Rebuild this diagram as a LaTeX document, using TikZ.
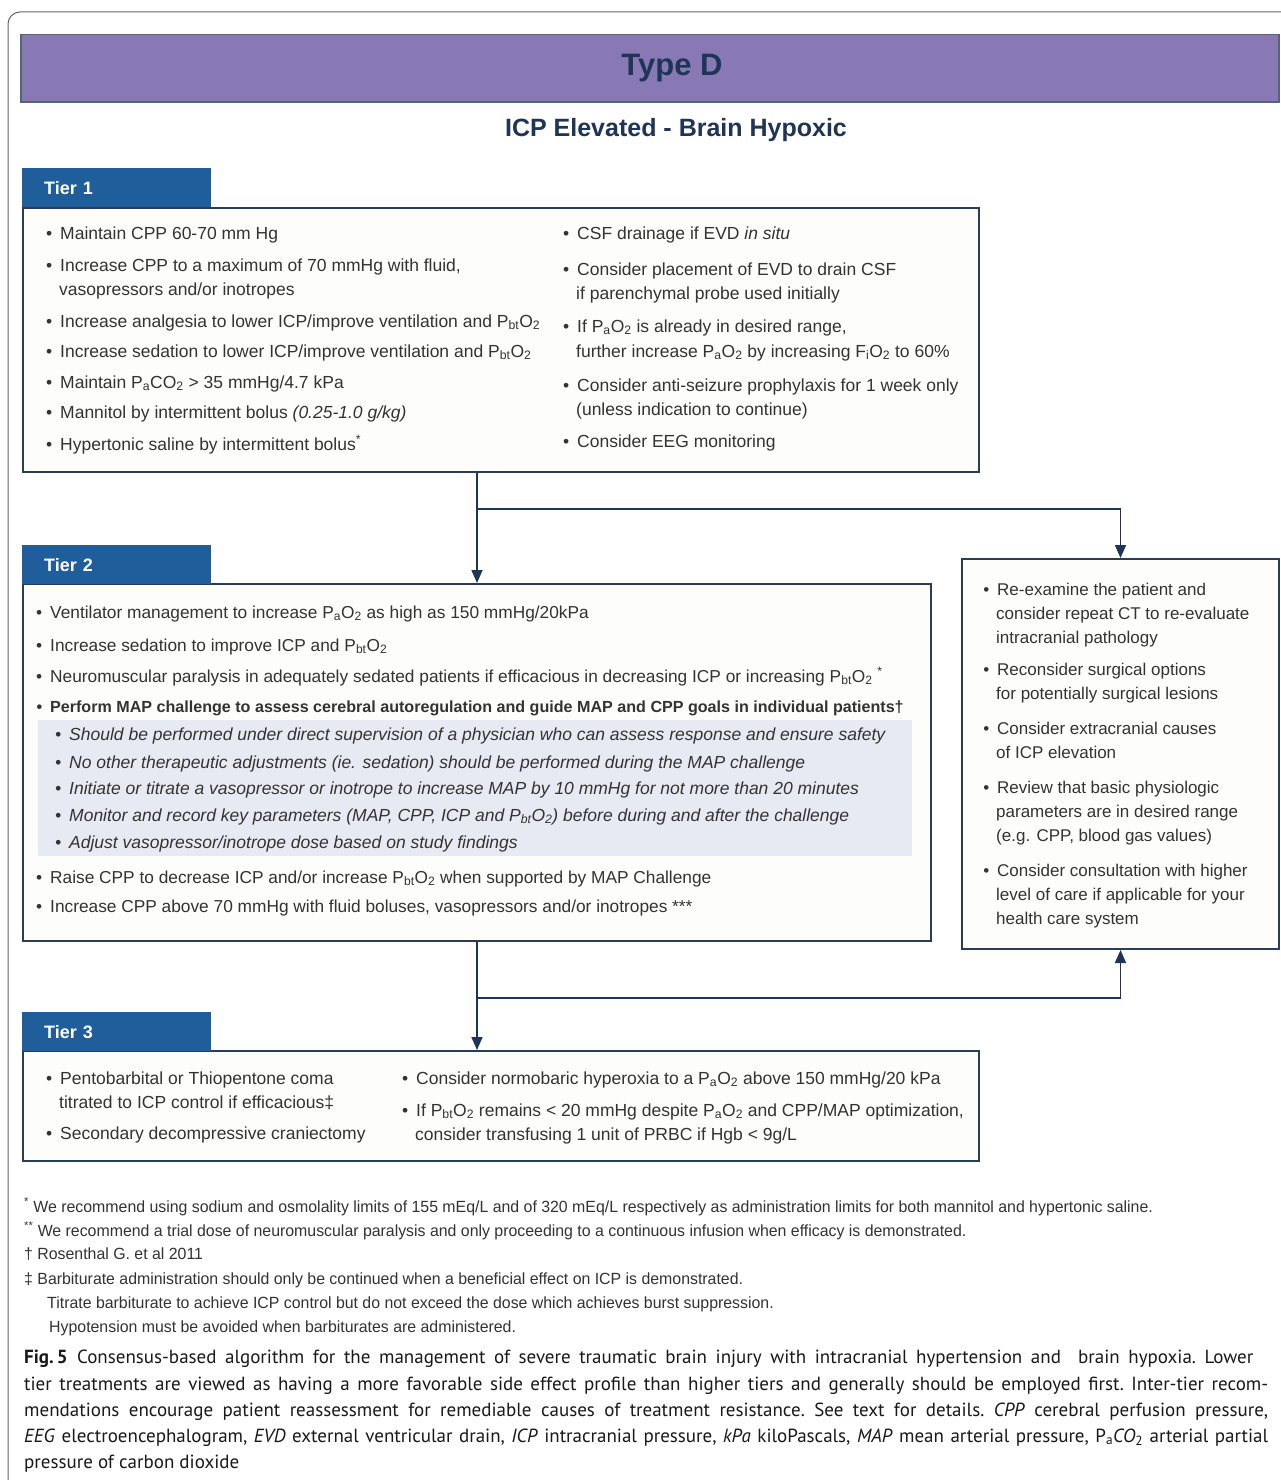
\documentclass[tikz,border=0pt]{standalone}
\usepackage{fontspec}
\setmainfont{Liberation Sans}
\newfontfamily\capfont{PT Sans}
\newfontfamily\narrowfont[FakeStretch=0.98]{Liberation Sans}
\usetikzlibrary{positioning, arrows.meta}

\definecolor{barpurple}{HTML}{8878B4}
\definecolor{navy}{HTML}{1E3557}
\definecolor{tabblue}{HTML}{1F5E9B}
\definecolor{frame}{HTML}{2B3D55}
\definecolor{ink}{HTML}{333333}
\definecolor{shade}{HTML}{E7EAF2}
\definecolor{boxfill}{HTML}{FDFDFB}

\newcommand\bl{\llap{\textbullet\hspace{8pt}}}
\newcommand\lo[1]{\textsubscript{#1}}

\begin{document}
\begin{tikzpicture}[x=1pt, y=-1pt,
	box/.style={draw=frame, line width=2pt, fill=boxfill, anchor=north west, inner sep=0pt},
	tab/.style={fill=tabblue, text=white, anchor=north west, inner xsep=22pt, inner ysep=0pt,
		text width=145pt, minimum height=39pt, align=left, font=\bfseries\fontsize{18}{20}\selectfont},
	one/.style={anchor=base west, inner sep=0pt, text=ink, font=\fontsize{17.5}{21}\selectfont},
	two/.style={one, font=\fontsize{17.3}{20}\selectfont},
	twoit/.style={one, font=\itshape\fontsize{17.5}{20}\selectfont},
	twobf/.style={one, font=\bfseries\fontsize{16.1}{20}\selectfont},
	three/.style={one, font=\fontsize{17}{20}\selectfont},
	note/.style={anchor=base west, inner sep=0pt, text=ink, font=\narrowfont\fontsize{16.2}{18}\selectfont},
	captext/.style={anchor=base west, inner sep=0pt, text=black!90, font=\capfont\frenchspacing\fontsize{19}{22}\selectfont},
	flow/.style={draw=navy, line width=1.6pt, -{Triangle[length=13pt,width=11pt]}}]
	\useasboundingbox (0,0) rectangle (1281,1480);
	\fill[white] (0,0) rectangle (1281,1480);
	\draw[black!60, line width=1pt, rounded corners=12pt] (8,1480) -- (8,12) -- (1281,12);

	% heading
	\node[fill=barpurple, draw=frame!80, line width=1.5pt, anchor=north west, inner sep=0pt,
		minimum width=1258pt, minimum height=67pt] (bar) at (20,34) {};
	\node[text=navy, font=\bfseries\fontsize{31}{33}\selectfont] (typed) at (672,68) {Type D};
	\node[text=navy, font=\bfseries\fontsize{25}{27}\selectfont] (title) at (676,130) {ICP Elevated - Brain Hypoxic};

	% boxes
	\node[box, minimum width=956pt, minimum height=264pt] (tier1) at (22,207) {};
	\node[box, minimum width=908pt, minimum height=357pt] (tier2) at (22,583) {};
	\node[box, minimum width=317pt, minimum height=390pt] (review) at (961,558) {};
	\node[box, minimum width=956pt, minimum height=110pt] (tier3) at (22,1050) {};
	\node[fill=shade, anchor=north west, inner sep=0pt, minimum width=874pt, minimum height=136pt] (mapbox) at (38,720) {};
	\node[tab] (tab1) at (22,168) {Tier 1};
	\node[tab] (tab2) at (22,545) {Tier 2};
	\node[tab] (tab3) at (22,1012) {Tier 3};

	% connectors
	\coordinate (split1) at (476,509);
	\coordinate (split2) at (476,998);
	\draw[flow] (tier2.north |- tier1.south) -- (tier2.north);
	\draw[flow] (split1) -| (review.north);
	\draw[flow] (tier2.south) -- (tier2.south |- tier3.north);
	\draw[flow] (split2) -| (review.south);

	% tier 1
	\node[one] (a1) at (60,239) {\bl Maintain CPP 60-70 mm Hg};
	\node[one] (a2) at (60,271) {\bl Increase CPP to a maximum of 70 mmHg with fluid,};
	\node[one] (a3) at (59,295) {vasopressors and/or inotropes};
	\node[one] (a4) at (60,327) {\bl Increase analgesia to lower ICP/improve ventilation and P\lo{bt}O\lo{2}};
	\node[one] (a5) at (60,357) {\bl Increase sedation to lower ICP/improve ventilation and P\lo{bt}O\lo{2}};
	\node[one] (a6) at (60,388) {\bl Maintain P\lo{a}CO\lo{2} > 35 mmHg/4.7 kPa};
	\node[one] (a7) at (60,418) {\bl Mannitol by intermittent bolus \textit{(0.25-1.0 g/kg)}};
	\node[one] (a8) at (60,450) {\bl Hypertonic saline by intermittent bolus\textsuperscript{*}};
	\node[one] (b1) at (577,239) {\bl CSF drainage if EVD \textit{in situ}};
	\node[one] (b2) at (577,275) {\bl Consider placement of EVD to drain CSF};
	\node[one] (b3) at (576,299) {if parenchymal probe used initially};
	\node[one] (b4) at (577,332) {\bl If P\lo{a}O\lo{2} is already in desired range,};
	\node[one] (b5) at (576,357) {further increase P\lo{a}O\lo{2} by increasing F\lo{i}O\lo{2} to 60\%};
	\node[one] (b6) at (577,391) {\bl Consider anti-seizure prophylaxis for 1 week only};
	\node[one] (b7) at (576,415) {(unless indication to continue)};
	\node[one] (b8) at (577,447) {\bl Consider EEG monitoring};

	% tier 2
	\node[two] (c1) at (50,618) {\bl Ventilator management to increase P\lo{a}O\lo{2} as high as 150 mmHg/20kPa};
	\node[two] (c2) at (50,651) {\bl Increase sedation to improve ICP and P\lo{bt}O\lo{2}};
	\node[two] (c3) at (50,682) {\bl Neuromuscular paralysis in adequately sedated patients if efficacious in decreasing ICP or increasing P\lo{bt}O\lo{2} \textsuperscript{*}};
	\node[twobf] (c4) at (50,712) {\bl Perform MAP challenge to assess cerebral autoregulation and guide MAP and CPP goals in individual patients\textdagger};
	\node[twoit] (d1) at (69,740) {\bl Should be performed under direct supervision of a physician who can assess response and ensure safety};
	\node[twoit] (d2) at (69,768) {\bl No other therapeutic adjustments (ie. sedation) should be performed during the MAP challenge};
	\node[twoit] (d3) at (69,794) {\bl Initiate or titrate a vasopressor or inotrope to increase MAP by 10 mmHg for not more than 20 minutes};
	\node[twoit] (d4) at (69,821) {\bl Monitor and record key parameters (MAP, CPP, ICP and P\lo{bt}O\lo{2}) before during and after the challenge};
	\node[twoit] (d5) at (69,848) {\bl Adjust vasopressor/inotrope dose based on study findings};
	\node[two] (c5) at (50,883) {\bl Raise CPP to decrease ICP and/or increase P\lo{bt}O\lo{2} when supported by MAP Challenge};
	\node[two] (c6) at (50,912) {\bl Increase CPP above 70 mmHg with fluid boluses, vasopressors and/or inotropes ***};

	% reassessment
	\node[three] (e1) at (997,595) {\bl Re-examine the patient and};
	\node[three] (e2) at (996,619) {consider repeat CT to re-evaluate};
	\node[three] (e3) at (996,643) {intracranial pathology};
	\node[three] (e4) at (997,675) {\bl Reconsider surgical options};
	\node[three] (e5) at (996,699) {for potentially surgical lesions};
	\node[three] (e6) at (997,734) {\bl Consider extracranial causes};
	\node[three] (e7) at (996,758) {of ICP elevation};
	\node[three] (e8) at (997,793) {\bl Review that basic physiologic};
	\node[three] (e9) at (996,817) {parameters are in desired range};
	\node[three] (e10) at (996,841) {(e.g. CPP, blood gas values)};
	\node[three] (e11) at (997,876) {\bl Consider consultation with higher};
	\node[three] (e12) at (996,900) {level of care if applicable for your};
	\node[three] (e13) at (996,924) {health care system};

	% tier 3
	\node[one] (f1) at (60,1084) {\bl Pentobarbital or Thiopentone coma};
	\node[one] (f2) at (59,1108) {titrated to ICP control if efficacious\textdaggerdbl};
	\node[one] (f3) at (60,1139) {\bl Secondary decompressive craniectomy};
	\node[one] (g1) at (416,1084) {\bl Consider normobaric hyperoxia to a P\lo{a}O\lo{2} above 150 mmHg/20 kPa};
	\node[one] (g2) at (416,1116) {\bl If P\lo{bt}O\lo{2} remains < 20 mmHg despite P\lo{a}O\lo{2} and CPP/MAP optimization,};
	\node[one] (g3) at (415,1140) {consider transfusing 1 unit of PRBC if Hgb < 9g/L};

	% footnotes
	\node[note] (n1) at (24,1212) {\textsuperscript{*} We recommend using sodium and osmolality limits of 155 mEq/L and of 320 mEq/L respectively as administration limits for both mannitol and hypertonic saline.};
	\node[note] (n2) at (24,1236) {\textsuperscript{**} We recommend a trial dose of neuromuscular paralysis and only proceeding to a continuous infusion when efficacy is demonstrated.};
	\node[note] (n3) at (24,1259) {\textdagger{} Rosenthal G. et al 2011};
	\node[note] (n4) at (24,1284) {\textdaggerdbl{} Barbiturate administration should only be continued when a beneficial effect on ICP is demonstrated.};
	\node[note] (n5) at (47,1308) {Titrate barbiturate to achieve ICP control but do not exceed the dose which achieves burst suppression.};
	\node[note] (n6) at (49,1332) {Hypotension must be avoided when barbiturates are administered.};

	% caption
	\node[captext] (cap1) at (24,1363) {\hbox to 1229pt{\textbf{Fig.\kern3pt 5}\enspace Consensus-based algorithm for the management of severe traumatic brain injury with intracranial hypertension and \ brain hypoxia. Lower}};
	\node[captext] (cap2) at (24,1390) {\hbox to 1244pt{tier treatments are viewed as having a more favorable side effect profile than higher tiers and generally should be employed first. Inter-tier recom-}};
	\node[captext] (cap3) at (24,1416) {\hbox to 1244pt{mendations encourage patient reassessment for remediable causes of treatment resistance. See text for details. \textit{CPP} cerebral perfusion pressure,}};
	\node[captext] (cap4) at (24,1442) {\hbox to 1244pt{\textit{EEG} electroencephalogram, \textit{EVD} external ventricular drain, \textit{ICP} intracranial pressure, \textit{kPa} kiloPascals, \textit{MAP} mean arterial pressure, P\lo{a}\textit{CO}\lo{2} arterial partial}};
	\node[captext] (cap5) at (24,1468) {pressure of carbon dioxide};
\end{tikzpicture}
\end{document}
